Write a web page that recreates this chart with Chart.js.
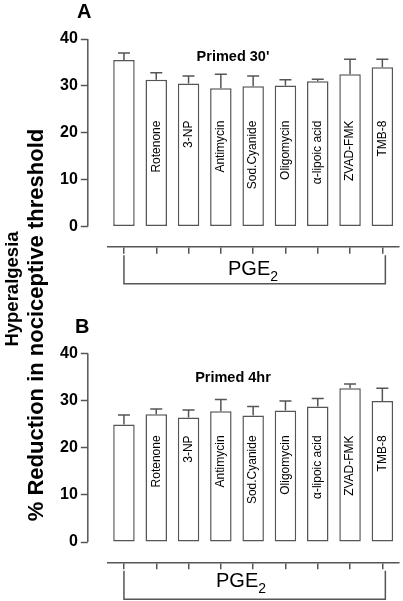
<!DOCTYPE html>
<html>
<head>
<meta charset="utf-8">
<script src="https://cdn.jsdelivr.net/npm/chart.js@4.4.0/dist/chart.umd.min.js"></script>
<style>
  html, body { margin: 0; padding: 0; background: #fff; }
  #wrap { position: relative; width: 403px; height: 601px; overflow: hidden;
          font-family: Arial, "Liberation Sans", sans-serif; color: #000; }
  canvas { position: absolute; left: 0; }
  .txt { position: absolute; white-space: nowrap; line-height: 1; }
  .bold { font-weight: bold; }
  .mid { transform: translate(-50%, -50%); }
  .vert { transform: translate(-50%, -50%) rotate(-90deg); }
  .sub { font-size: 14px; position: relative; top: 6px; }
</style>
</head>
<body>
<div id="wrap">
  <canvas id="chartA" width="403" height="300" style="top:0"></canvas>
  <canvas id="chartB" width="403" height="301" style="top:300px"></canvas>

  <div class="txt bold" style="left:77px;top:1px;font-size:20px">A</div>
  <div class="txt bold" style="left:75px;top:316px;font-size:20px">B</div>
  <div class="txt bold mid" style="left:233px;top:56px;font-size:14.5px">Primed 30'</div>
  <div class="txt bold mid" style="left:233px;top:377px;font-size:14.5px">Primed 4hr</div>
  <div class="txt" style="left:228px;top:258px;font-size:20px">PGE<span class="sub">2</span></div>
  <div class="txt" style="left:216px;top:570px;font-size:20px">PGE<span class="sub">2</span></div>
  <div class="txt bold vert" style="left:12px;top:289px;font-size:18.5px">Hyperalgesia</div>
  <div class="txt bold vert" style="left:36px;top:325px;font-size:22px">% Reduction in nociceptive threshold</div>
</div>

<script>
const categories = ['', 'Rotenone', '3-NP', 'Antimycin', 'Sod.Cyanide', 'Oligomycin', 'α-lipoic acid', 'ZVAD-FMK', 'TMB-8'];
const primed30Mean = [35.5, 31.3, 30.5, 29.5, 29.9, 30.1, 31.0, 32.5, 34.0];
const primed30Sem  = [1.5, 1.5, 1.6, 3.0, 2.2, 1.2, 0.4, 3.2, 1.7];
const primed4hrMean = [24.9, 27.1, 26.4, 27.7, 26.8, 27.9, 28.7, 32.6, 29.9];
const primed4hrSem  = [2.0, 1.1, 1.6, 2.5, 1.9, 2.0, 1.7, 0.9, 2.7];
const yTicks = [0, 10, 20, 30, 40];

const LINE = '#555';
const FONT = 'Arial, "Liberation Sans", sans-serif';

// error bars, labels inside bars, offset y axis line and the PGE2 bracket
const decorPlugin = {
  id: 'decor',
  afterDatasetsDraw(chart, args, opts) {
    const ctx = chart.ctx;
    const y = chart.scales.y;
    const meta = chart.getDatasetMeta(0);
    const ds = chart.data.datasets[0];

    ctx.save();
    ctx.strokeStyle = LINE;
    ctx.lineWidth = 1.5;
    meta.data.forEach((bar, i) => {
      const top = y.getPixelForValue(ds.data[i] + ds.errors[i]);
      ctx.beginPath();
      ctx.moveTo(bar.x, bar.y);
      ctx.lineTo(bar.x, top);
      ctx.moveTo(bar.x - 6, top);
      ctx.lineTo(bar.x + 6, top);
      ctx.stroke();
    });

    ctx.fillStyle = '#000';
    ctx.font = '12px ' + FONT;
    ctx.textAlign = 'right';
    ctx.textBaseline = 'middle';
    const ly = y.getPixelForValue(opts.labelEnd);
    meta.data.forEach((bar, i) => {
      const label = chart.data.labels[i];
      if (!label) return;
      ctx.save();
      ctx.translate(bar.x, ly);
      ctx.rotate(-Math.PI / 2);
      ctx.fillText(label, 0, 0);
      ctx.restore();
    });
    ctx.restore();
  },
  afterDraw(chart, args, opts) {
    const ctx = chart.ctx;
    const x = chart.scales.x;
    const y = chart.scales.y;
    ctx.save();
    ctx.strokeStyle = LINE;
    ctx.lineWidth = 1.5;

    const ax = y.right - y.options.grid.tickLength + 7;
    ctx.beginPath();
    ctx.moveTo(ax, y.getPixelForValue(0));
    ctx.lineTo(ax, y.getPixelForValue(40));
    ctx.stroke();

    const bTop = x.bottom + opts.bracketGap;
    const bBot = x.bottom + opts.bracketDepth;
    const bl = x.getPixelForValue(0);
    const br = x.getPixelForValue(categories.length - 1) + 3;
    ctx.beginPath();
    ctx.moveTo(bl, bTop);
    ctx.lineTo(bl, bBot);
    ctx.lineTo(br, bBot);
    ctx.lineTo(br, bTop);
    ctx.stroke();
    ctx.restore();
  }
};

function makePanel(canvasId, means, sems, padTop, padBottom) {
  return new Chart(document.getElementById(canvasId), {
    type: 'bar',
    data: {
      labels: categories,
      datasets: [{
        data: means,
        errors: sems,
        backgroundColor: '#fff',
        borderColor: LINE,
        borderWidth: 1.5,
        borderSkipped: false,
        barPercentage: 0.665,
        categoryPercentage: 1
      }]
    },
    options: {
      responsive: false,
      animation: false,
      layout: { padding: { top: padTop, right: 4.5, bottom: padBottom, left: 0 } },
      scales: {
        x: {
          offset: true,
          border: { display: true, color: LINE, width: 1.5 },
          grid: { offset: false, drawOnChartArea: false, tickLength: 7, color: LINE, lineWidth: 1.5 },
          ticks: { display: false }
        },
        y: {
          min: -4.3,
          max: 40,
          afterBuildTicks: s => { s.ticks = yTicks.map(v => ({ value: v })); },
          afterFit: s => { s.width = 107.8; },
          border: { display: false },
          grid: {
            drawOnChartArea: false,
            tickLength: 27,
            tickBorderDash: [7, 60],
            tickColor: LINE,
            tickWidth: 1.5
          },
          ticks: {
            color: '#000',
            padding: 3,
            font: { family: FONT, size: 16, weight: 'bold' }
          }
        }
      },
      plugins: {
        legend: { display: false },
        tooltip: { enabled: false },
        decor: { labelEnd: 22.6, bracketGap: 1.5, bracketDepth: 30 }
      }
    },
    plugins: [decorPlugin]
  });
}

makePanel('chartA', primed30Mean, primed30Sem, 39, 46.3);
makePanel('chartB', primed4hrMean, primed4hrSem, 53.3, 31.7);
</script>
</body>
</html>
